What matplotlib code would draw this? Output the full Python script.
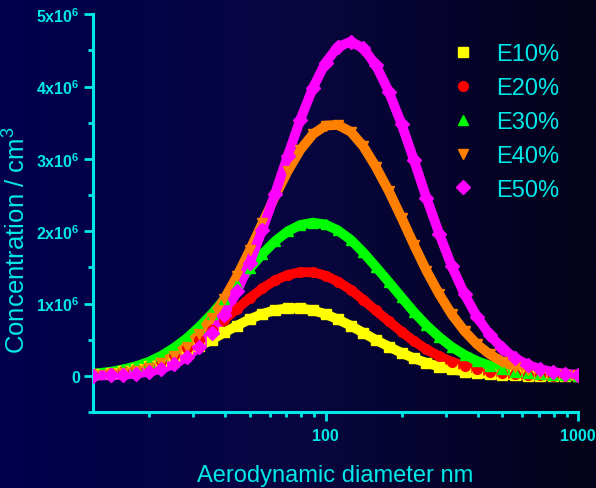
import numpy as np
import matplotlib
matplotlib.use("Agg")
import matplotlib.pyplot as plt
from matplotlib.colors import LinearSegmentedColormap
from matplotlib.ticker import FixedLocator, NullFormatter

plt.rcParams['font.family'] = ['Liberation Sans', 'DejaVu Sans']
plt.rcParams['mathtext.fontset'] = 'custom'
plt.rcParams['mathtext.rm'] = 'Liberation Sans'
plt.rcParams['mathtext.bf'] = 'Liberation Sans:bold'

# aerodynamic diameter (nm)
diam = [12, 14.1, 15.8, 17.8, 20.0, 22.4, 25.1, 28.2, 31.6, 35.5, 39.8, 44.7, 50.1,
        56.2, 63.1, 70.8, 79.4, 89.1, 100, 112, 126, 141, 158, 178, 200, 224, 251,
        282, 316, 355, 398, 447, 501, 562, 631, 708, 794, 891, 1000]

# concentration, units of 1e6 / cm3
e10 = [0.022, 0.042, 0.063, 0.093, 0.133, 0.184, 0.247, 0.323, 0.409, 0.504, 0.602,
       0.698, 0.785, 0.858, 0.910, 0.937, 0.936, 0.908, 0.855, 0.782, 0.694, 0.598,
       0.500, 0.406, 0.320, 0.244, 0.181, 0.131, 0.091, 0.062, 0.041, 0.026, 0.016,
       0.010, 0.006, 0.003, 0.002, 0.001, 0.000]
e20 = [0.021, 0.042, 0.066, 0.099, 0.145, 0.207, 0.287, 0.385, 0.502, 0.635, 0.780,
       0.931, 1.077, 1.210, 1.320, 1.398, 1.436, 1.433, 1.388, 1.304, 1.190, 1.054,
       0.906, 0.757, 0.613, 0.482, 0.368, 0.273, 0.196, 0.137, 0.093, 0.061, 0.039,
       0.024, 0.015, 0.009, 0.005, 0.003, 0.001]
e30 = [0.031, 0.059, 0.091, 0.136, 0.198, 0.281, 0.388, 0.520, 0.678, 0.860, 1.061,
       1.273, 1.486, 1.686, 1.862, 1.999, 2.087, 2.120, 2.094, 2.012, 1.881, 1.709,
       1.511, 1.299, 1.086, 0.883, 0.699, 0.538, 0.402, 0.293, 0.207, 0.143, 0.095,
       0.062, 0.039, 0.024, 0.015, 0.008, 0.005]
e40 = [0.011, 0.025, 0.043, 0.072, 0.116, 0.182, 0.277, 0.407, 0.580, 0.801, 1.070,
       1.386, 1.738, 2.111, 2.483, 2.830, 3.124, 3.341, 3.460, 3.470, 3.373, 3.175,
       2.894, 2.556, 2.186, 1.811, 1.454, 1.130, 0.851, 0.620, 0.438, 0.300, 0.199,
       0.128, 0.079, 0.048, 0.028, 0.016, 0.009]
e50 = [0.004, 0.010, 0.018, 0.034, 0.059, 0.100, 0.165, 0.262, 0.402, 0.595, 0.849,
       1.174, 1.567, 2.020, 2.520, 3.040, 3.540, 3.980, 4.330, 4.550, 4.620, 4.530,
       4.300, 3.930, 3.480, 2.980, 2.460, 1.965, 1.516, 1.131, 0.815, 0.567, 0.381,
       0.248, 0.156, 0.095, 0.056, 0.031, 0.017]

labels = ["E10%", "E20%", "E30%", "E40%", "E50%"]
series = [e10, e20, e30, e40, e50]
colors = ["#FFFF00", "#FF0000", "#00FF00", "#FF8000", "#FF00FF"]
markers = ["s", "o", "^", "v", "D"]

cyan = "#00E8E8"

fig = plt.figure(figsize=(5.96, 4.89), dpi=100)

# background gradient, navy on the left to almost black on the right
bg = fig.add_axes([0, 0, 1, 1], zorder=-10)
grad = LinearSegmentedColormap.from_list("bg", ["#00004C", "#080640", "#040218"])
bg.imshow(np.linspace(0, 1, 256).reshape(1, -1), aspect="auto", cmap=grad,
          extent=[0, 1, 0, 1])
bg.axis("off")

ax = fig.add_axes([0.156, 0.155, 0.814, 0.814])
ax.patch.set_alpha(0)

d = np.array(diam)
for vals, lab, c, m in zip(series, labels, colors, markers):
    v = np.array(vals) * 1e6
    ax.plot(d, v, color=c, lw=7, solid_capstyle="round", zorder=2)
    ax.plot(d, v, ls="none", marker=m, ms=7, color=c, mec=c, label=lab, zorder=3)

ax.set_xscale("log")
ax.set_xlim(12, 1000)
ax.set_ylim(-0.5e6, 5e6)

ax.xaxis.set_major_locator(FixedLocator([100, 1000]))
ax.xaxis.set_minor_locator(FixedLocator([20, 30, 40, 50, 60, 70, 80, 90,
                                         200, 300, 400, 500, 600, 700, 800, 900]))
ax.xaxis.set_minor_formatter(NullFormatter())
ax.set_xticklabels(["100", "1000"])

yt = [0, 1e6, 2e6, 3e6, 4e6, 5e6]
ax.set_yticks(yt)
ax.set_yticklabels(["0"] + [r"$\mathbf{%dx10^{6}}$" % i for i in range(1, 6)])
ax.yaxis.set_minor_locator(FixedLocator([-0.5e6, 0.5e6, 1.5e6, 2.5e6, 3.5e6, 4.5e6]))

for s in ["top", "right"]:
    ax.spines[s].set_visible(False)
for s in ["left", "bottom"]:
    ax.spines[s].set_color(cyan)
    ax.spines[s].set_linewidth(2.2)

ax.tick_params(which="major", direction="out", length=6.5, width=2, colors=cyan, pad=3)
ax.tick_params(which="minor", direction="out", length=3.5, width=2, colors=cyan)
ax.tick_params(axis="y", which="major", labelsize=11.5)
ax.tick_params(axis="x", which="major", labelsize=11.5, pad=5)
for t in ax.get_xticklabels() + ax.get_yticklabels():
    t.set_fontweight("bold")

ax.set_xlabel("Aerodynamic diameter nm", color=cyan, fontsize=17)
ax.xaxis.set_label_coords(0.5, -0.13)
ax.set_ylabel("Concentration / cm$^{3}$", color=cyan, fontsize=18.5)
ax.yaxis.set_label_coords(-0.13, 0.435)

leg = ax.legend(loc="upper right", bbox_to_anchor=(0.99, 0.962), frameon=False,
                fontsize=17, labelspacing=0.5, handletextpad=0.9,
                handlelength=1.0, borderaxespad=0.2)
for t in leg.get_texts():
    t.set_color(cyan)

fig.savefig("out.png", dpi=100)
